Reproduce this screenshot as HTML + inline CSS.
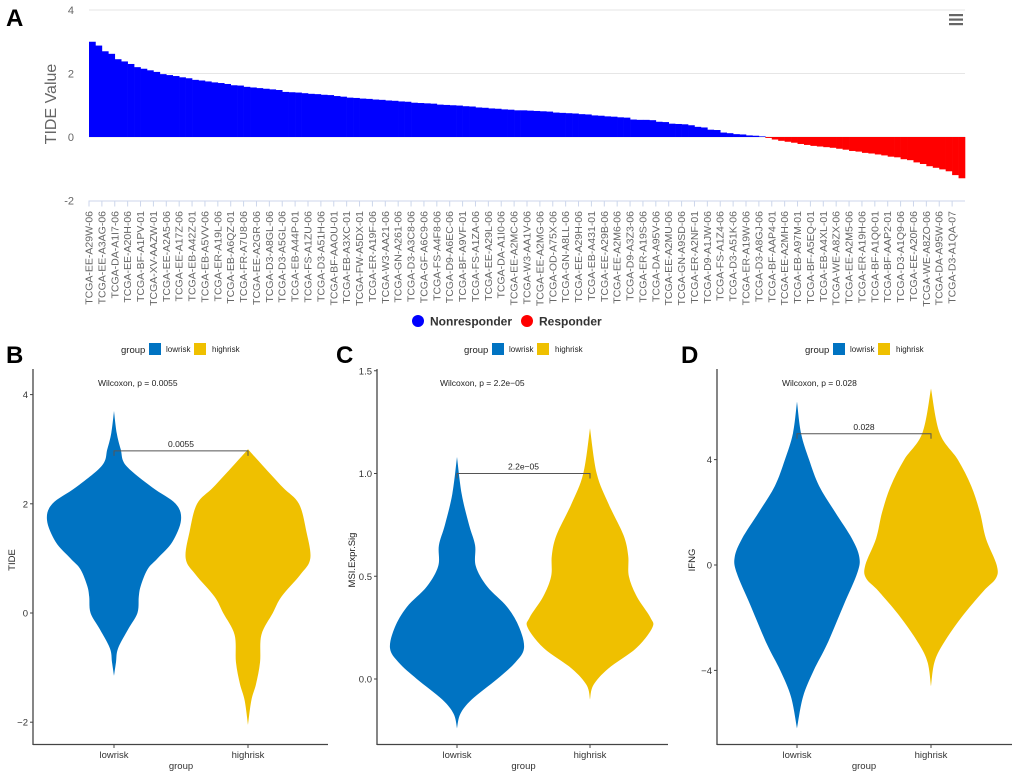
<!DOCTYPE html>
<html><head><meta charset="utf-8"><style>
html,body{margin:0;padding:0;background:#fff;}
svg{display:block;font-family:"Liberation Sans",Arial,sans-serif;}
</style></head><body>
<svg id="fig" width="1020" height="775" viewBox="0 0 1020 775" xmlns="http://www.w3.org/2000/svg">
<text x="6" y="26" font-size="24" font-weight="bold" fill="#000">A</text>
<text x="6" y="363" font-size="24" font-weight="bold" fill="#000">B</text>
<text x="336" y="363" font-size="24" font-weight="bold" fill="#000">C</text>
<text x="681" y="363" font-size="24" font-weight="bold" fill="#000">D</text>
<g id="pa"></g>
<g fill="#666">
<rect x="949" y="14" width="14" height="2.2"/><rect x="949" y="18.5" width="14" height="2.2"/><rect x="949" y="23" width="14" height="2.2"/>
</g>
<g><circle cx="418" cy="321" r="6" fill="#0000ff"/><text x="430" y="325.5" font-size="12" font-weight="bold" fill="#333">Nonresponder</text></g>
<g><circle cx="527" cy="321" r="6" fill="#ff0000"/><text x="539" y="325.5" font-size="12" font-weight="bold" fill="#333">Responder</text></g>
<g id="pb"></g>
<g id="pc"></g>
<g id="pd"></g>
</svg>
<script>
// ---------- Panel A data ----------
const sampleLabels = ["TCGA-EE-A29W-06","TCGA-EE-A3AG-06","TCGA-DA-A1I7-06","TCGA-EE-A20H-06","TCGA-BF-A1PV-01","TCGA-XV-AAZW-01","TCGA-EE-A2A5-06","TCGA-EE-A17Z-06","TCGA-EB-A42Z-01","TCGA-EB-A5VV-06","TCGA-ER-A19L-06","TCGA-EB-A6QZ-01","TCGA-FR-A7U8-06","TCGA-EE-A2GR-06","TCGA-D3-A8GL-06","TCGA-D3-A5GL-06","TCGA-EB-A44P-01","TCGA-FS-A1ZU-06","TCGA-D3-A51H-06","TCGA-BF-AAOU-01","TCGA-EB-A3XC-01","TCGA-FW-A5DX-01","TCGA-ER-A19F-06","TCGA-W3-AA21-06","TCGA-GN-A261-06","TCGA-D3-A3C8-06","TCGA-GF-A6C9-06","TCGA-FS-A4F8-06","TCGA-D9-A6EC-06","TCGA-BF-A9VF-01","TCGA-FS-A1ZA-06","TCGA-EE-A29L-06","TCGA-DA-A1I0-06","TCGA-EE-A2MC-06","TCGA-W3-AA1V-06","TCGA-EE-A2MG-06","TCGA-OD-A75X-06","TCGA-GN-A8LL-06","TCGA-EE-A29H-06","TCGA-EB-A431-01","TCGA-EE-A29B-06","TCGA-EE-A2M6-06","TCGA-D9-A3Z3-06","TCGA-ER-A19S-06","TCGA-DA-A95V-06","TCGA-EE-A2MU-06","TCGA-GN-A9SD-06","TCGA-ER-A2NF-01","TCGA-D9-A1JW-06","TCGA-FS-A1Z4-06","TCGA-D3-A51K-06","TCGA-ER-A19W-06","TCGA-D3-A8GJ-06","TCGA-BF-AAP4-01","TCGA-EE-A2MH-06","TCGA-EB-A97M-01","TCGA-BF-A5EQ-01","TCGA-EB-A4XL-01","TCGA-WE-A8ZX-06","TCGA-EE-A2M5-06","TCGA-ER-A19H-06","TCGA-BF-A1Q0-01","TCGA-BF-AAP2-01","TCGA-D3-A1Q9-06","TCGA-EE-A20F-06","TCGA-WE-A8ZO-06","TCGA-DA-A95W-06","TCGA-D3-A1QA-07"];
const tideValues = [3.00,2.88,2.70,2.62,2.45,2.38,2.30,2.20,2.15,2.10,2.05,1.98,1.95,1.92,1.88,1.85,1.80,1.78,1.75,1.72,1.70,1.67,1.63,1.62,1.58,1.56,1.54,1.52,1.50,1.48,1.42,1.41,1.40,1.38,1.36,1.35,1.33,1.32,1.29,1.27,1.24,1.23,1.21,1.20,1.18,1.17,1.15,1.14,1.12,1.11,1.08,1.07,1.06,1.05,1.02,1.01,1.00,0.99,0.97,0.96,0.93,0.92,0.90,0.89,0.87,0.86,0.84,0.84,0.83,0.82,0.81,0.80,0.77,0.76,0.75,0.74,0.72,0.71,0.68,0.67,0.65,0.64,0.62,0.61,0.55,0.54,0.54,0.53,0.48,0.47,0.42,0.41,0.40,0.37,0.32,0.30,0.23,0.22,0.14,0.12,0.09,0.08,0.05,0.04,0.02,-0.03,-0.08,-0.12,-0.15,-0.18,-0.22,-0.25,-0.28,-0.30,-0.32,-0.34,-0.37,-0.40,-0.44,-0.46,-0.50,-0.52,-0.55,-0.58,-0.62,-0.64,-0.70,-0.73,-0.80,-0.85,-0.92,-0.97,-1.02,-1.08,-1.20,-1.30];
const tideTicks = [4,2,0,-2];

// ---------- Violin data ----------
const groups = ["lowrisk","highrisk"];
const bLowVals  = [3.7,3.3,3.0,2.7,2.3,2.0,1.7,1.3,1.0,0.8,0.5,0.3,0,-0.3,-0.65,-0.9,-1.15];
const bLowDens  = [0,0.04,0.1,0.18,0.57,0.92,1.0,0.87,0.65,0.5,0.4,0.37,0.35,0.21,0.06,0.03,0];
const bHighVals = [3.0,2.7,2.3,2.0,1.5,1.0,0.7,0.3,0,-0.4,-0.9,-1.3,-1.6,-2.05];
const bHighDens = [0,0.22,0.52,0.76,0.87,0.93,0.78,0.5,0.37,0.2,0.18,0.12,0.05,0];
const bTicks = [4,2,0,-2];
const cLowVals  = [1.08,0.9,0.75,0.65,0.55,0.45,0.35,0.25,0.15,0.08,0,-0.1,-0.17,-0.24];
const cLowDens  = [0,0.07,0.18,0.27,0.28,0.45,0.75,0.93,1.0,0.87,0.6,0.22,0.05,0];
const cHighVals = [1.22,1.0,0.85,0.7,0.6,0.5,0.4,0.3,0.25,0.15,0.05,-0.03,-0.1];
const cHighDens = [0,0.1,0.28,0.5,0.57,0.58,0.7,0.9,0.93,0.69,0.27,0.05,0];
const cTicks = [1.5,1.0,0.5,0.0];
const dLowVals  = [6.2,5,4,3,2,1,0.3,-0.3,-1.5,-3,-4,-5,-6.2];
const dLowDens  = [0,0.06,0.18,0.33,0.57,0.82,0.93,0.9,0.7,0.45,0.25,0.09,0];
const dHighVals = [6.7,5,4,3,2,1,0,-0.5,-1,-2,-3,-3.7,-4.6];
const dHighDens = [0,0.13,0.4,0.6,0.73,0.82,0.98,0.97,0.78,0.45,0.18,0.05,0];
const dTicks = [4,0,-4];

const NS = "http://www.w3.org/2000/svg";
function mk(tag, attrs, parent, txt){
  const e = document.createElementNS(NS, tag);
  for (const k in attrs) e.setAttribute(k, attrs[k]);
  if (txt !== undefined) e.textContent = txt;
  parent.appendChild(e);
  return e;
}

// ---------- Panel A ----------
(function(){
  const g = document.getElementById('pa');
  const x0 = 89, x1 = 965;
  const yv = v => 137 - v * 31.75;
  const step = (x1 - x0) / sampleLabels.length;
  const bw = (x1 - x0) / tideValues.length;
  tideTicks.forEach(t => {
    if (t !== -2) {
      const gl = mk('line', {x1:x0, x2:x1, y1:yv(t), y2:yv(t), stroke:'#e6e6e6', 'stroke-width':1}, g);
      
      
    }
    const tl = mk('text', {x:74, y:yv(t)+4, 'font-size':11, fill:'#666', 'text-anchor':'end'}, g, String(t));
    
    
  });
  tideValues.forEach((v, i) => {
    const y = Math.min(yv(v), yv(0)), h = Math.abs(yv(v) - yv(0));
    const r = mk('rect', {x:x0 + i*bw, y:y, width:bw+0.3, height:Math.max(h,0.5), fill: v < 0 ? '#ff0000' : '#0000ff'}, g);
    
    
  });
  const ax = mk('line', {x1:x0, x2:x1, y1:yv(-2)+0.5, y2:yv(-2)+0.5, stroke:'#ccd6eb', 'stroke-width':1}, g);
  
  
  sampleLabels.forEach((s, i) => {
    const x = x0 + i*step;
    const tk = mk('line', {x1:x, x2:x, y1:yv(-2), y2:yv(-2)+6, stroke:'#ccd6eb', 'stroke-width':1}, g);
    
    
    const t = mk('text', {x:0, y:0, 'font-size':10.5, fill:'#666', 'text-anchor':'end', transform:`translate(${x+3.5},211) rotate(-90)`}, g, s);
    
    
  });
  const yt = mk('text', {x:0, y:0, 'font-size':16, fill:'#666', 'text-anchor':'middle', transform:'translate(56,104) rotate(-90)'}, g, 'TIDE Value');
  
  
})();

// ---------- Violin panels ----------
function smoothPath(pts){
  let d = `M${pts[0][0]},${pts[0][1]}`;
  for (let i = 0; i < pts.length - 1; i++) {
    const p0 = pts[Math.max(i-1,0)], p1 = pts[i], p2 = pts[i+1], p3 = pts[Math.min(i+2, pts.length-1)];
    const c1 = [p1[0] + (p2[0]-p0[0])/6, p1[1] + (p2[1]-p0[1])/6];
    const c2 = [p2[0] - (p3[0]-p1[0])/6, p2[1] - (p3[1]-p1[1])/6];
    d += ` C${c1[0]},${c1[1]} ${c2[0]},${c2[1]} ${p2[0]},${p2[1]}`;
  }
  return d;
}
function violinPanel(id, cfg){
  const g = document.getElementById(id);
  const yv = v => cfg.y0 - (v - cfg.v0) * cfg.unit;
  const maxHalf = 67;
  // legend
  const lg = mk('g', {}, g);
  
  
  mk('text', {x:cfg.legX, y:353, 'font-size':9.5, fill:'#222'}, lg, 'group');
  const l1 = mk('rect', {x:cfg.legX+28, y:343, width:12, height:12, fill:'#0073c2'}, lg);
  
  
  mk('text', {x:cfg.legX+45, y:352, 'font-size':8, fill:'#222'}, lg, 'lowrisk');
  const l2 = mk('rect', {x:cfg.legX+73, y:343, width:12, height:12, fill:'#efc000'}, lg);
  
  
  mk('text', {x:cfg.legX+91, y:352, 'font-size':8, fill:'#222'}, lg, 'highrisk');
  // violins
  const series = [[cfg.lowV, cfg.lowD, cfg.cx[0], '#0073c2'], [cfg.highV, cfg.highD, cfg.cx[1], '#efc000']];
  series.forEach((s, k) => {
    const [vals, dens, cx, col] = s;
    const right = vals.map((v, i) => [cx + dens[i]*maxHalf, yv(v)]);
    const left = vals.map((v, i) => [cx - dens[i]*maxHalf, yv(v)]).reverse();
    const d = smoothPath(right) + ' ' + smoothPath(left).replace(/^M/, 'L') + ' Z';
    const p = mk('path', {d:d, fill:col}, g);
    
    
  });
  // axes
  const ya = mk('line', {x1:cfg.axL, x2:cfg.axL, y1:369, y2:745, stroke:'#444', 'stroke-width':1.3}, g);
  
  
  const xa = mk('line', {x1:cfg.axL, x2:cfg.axR, y1:744.5, y2:744.5, stroke:'#444', 'stroke-width':1.3}, g);
  
  
  cfg.ticks.forEach(t => {
    mk('line', {x1:cfg.axL-3, x2:cfg.axL, y1:yv(t), y2:yv(t), stroke:'#444', 'stroke-width':1}, g);
    const tl = mk('text', {x:cfg.axL-5, y:yv(t)+3.5, 'font-size':9.5, fill:'#333', 'text-anchor':'end'}, g, cfg.fmt(t));
    
    
  });
  groups.forEach((gr, k) => {
    mk('line', {x1:cfg.cx[k], x2:cfg.cx[k], y1:745, y2:748, stroke:'#444', 'stroke-width':1}, g);
    const tl = mk('text', {x:cfg.cx[k], y:758, 'font-size':9.5, fill:'#333', 'text-anchor':'middle'}, g, gr);
    
    
  });
  const mid = (cfg.cx[0] + cfg.cx[1]) / 2;
  const xt = mk('text', {x:mid, y:769, 'font-size':9.5, fill:'#333', 'text-anchor':'middle'}, g, 'group');
  
  
  const yt = mk('text', {x:0, y:0, 'font-size':9.5, fill:'#222', 'text-anchor':'middle', transform:`translate(${cfg.yLabX},560) rotate(-90)`}, g, cfg.yTitle);
  
  
  const wt = mk('text', {x:cfg.wX, y:386, 'font-size':8.5, fill:'#222'}, g, cfg.wText);
  
  
  // bracket
  const by = yv(cfg.brV);
  const br = mk('path', {d:`M${cfg.cx[0]},${by+5} L${cfg.cx[0]},${by} L${cfg.cx[1]},${by} L${cfg.cx[1]},${by+5}`, fill:'none', stroke:'#555', 'stroke-width':1}, g);
  
  
  const bl = mk('text', {x:mid, y:by-4, 'font-size':8.5, fill:'#222', 'text-anchor':'middle'}, g, cfg.pText);
  
  
}
violinPanel('pb', {y0:613, v0:0, unit:54.6, cx:[114,248], axL:33, axR:328, legX:121, lowV:bLowVals, lowD:bLowDens, highV:bHighVals, highD:bHighDens, ticks:bTicks, fmt:t=>String(t).replace('-','\u2212'), yTitle:'TIDE', yLabX:15, wX:98, wText:'Wilcoxon, p = 0.0055', brV:2.97, pText:'0.0055'});
violinPanel('pc', {y0:679, v0:0, unit:205.5, cx:[457,590], axL:377, axR:668, legX:464, lowV:cLowVals, lowD:cLowDens, highV:cHighVals, highD:cHighDens, ticks:cTicks, fmt:t=>t.toFixed(1), yTitle:'MSI.Expr.Sig', yLabX:355, wX:440, wText:'Wilcoxon, p = 2.2e\u221205', brV:1.0, pText:'2.2e\u221205'});
violinPanel('pd', {y0:565, v0:0, unit:26.35, cx:[797,931], axL:717, axR:1012, legX:805, lowV:dLowVals, lowD:dLowDens, highV:dHighVals, highD:dHighDens, ticks:dTicks, fmt:t=>String(t).replace('-','\u2212'), yTitle:'IFNG', yLabX:695, wX:782, wText:'Wilcoxon, p = 0.028', brV:4.98, pText:'0.028'});
</script>
</body></html>
